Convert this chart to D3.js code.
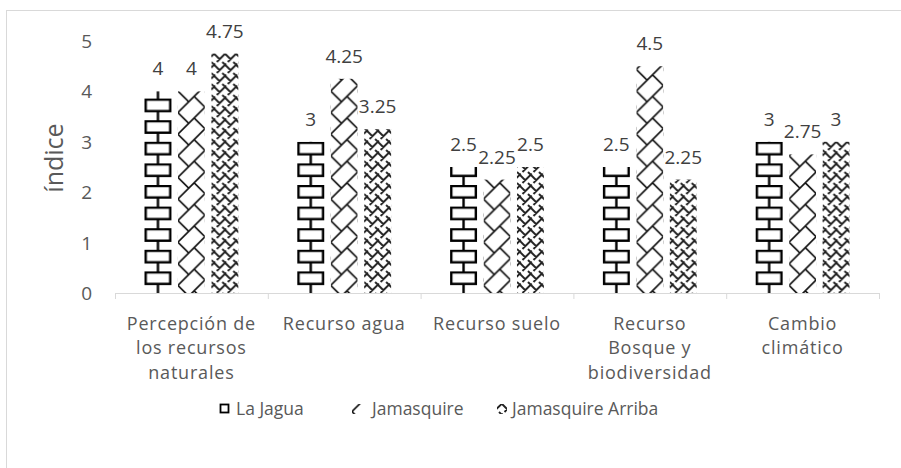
<!DOCTYPE html>
<html>
<head>
<meta charset="utf-8">
<script src="https://cdn.jsdelivr.net/npm/d3@7"></script>
<style>
  body { margin: 0; background: #fff; }
  text { font-family: "Open Sans", "Noto Sans", sans-serif; fill: #595959; }
</style>
</head>
<body>
<div id="vis-holder"></div>
<script>
// Chart data
const categories = ["Percepción de los recursos naturales", "Recurso agua", "Recurso suelo",
                    "Recurso Bosque y biodiversidad", "Cambio climático"];
const catLines = [["Percepción de", "los recursos", "naturales"], ["Recurso agua"], ["Recurso suelo"],
                  ["Recurso", "Bosque y", "biodiversidad"], ["Cambio", "climático"]];
const series = ["La Jagua", "Jamasquire", "Jamasquire Arriba"];
const laJagua = [4, 3, 2.5, 2.5, 3];
const jamasquire = [4, 4.25, 2.25, 4.5, 2.75];
const jamasquireArriba = [4.75, 3.25, 2.5, 2.25, 3];
const yTicks = [0, 1, 2, 3, 4, 5];

const values = [laJagua, jamasquire, jamasquireArriba];

// Sizes
const width = 901, height = 468;
const margin = { top: 41, right: 21, bottom: 175, left: 115 };
const baseY = height - margin.bottom; // 293

const svg = d3.select("#vis-holder")
              .append("svg")
              .attr("width", width)
              .attr("height", height);

// Outer border
svg.append("rect")
   .attr("x", 6.5).attr("y", 10.5)
   .attr("width", 900).attr("height", 470)
   .attr("fill", "none")
   .attr("stroke", "#d9d9d9");

// Scales
const x = d3.scaleBand()
            .domain(categories)
            .range([margin.left, width - margin.right - 1]);

const xs = d3.scaleBand()
             .domain(series)
             .range([29.5, x.bandwidth() - 29.5])
             .paddingInner(0.194);

const y = d3.scaleLinear()
            .domain([0, 5])
            .range([baseY, margin.top]);

const defs = svg.append("defs");
const H = 21.6;

// Pattern drawers: one per series
function brick(p, w) {
  p.append("rect").attr("x", 1.2).attr("y", 1).attr("width", w - 2.4).attr("height", 11.5)
   .attr("fill", "none").attr("stroke", "#000").attr("stroke-width", 2.4);
  p.append("path").attr("d", `M${w / 2},12.5V${H}M${w / 2},0V1`)
   .attr("stroke", "#000").attr("stroke-width", 2.4);
}

function diagBrick(p, w) {
  const c = 14;
  let d = "";
  for (let k = -2; k <= 2; k++) {
    d += `M0,${c + k * H}L${w},${c + k * H - w}`;
    [0, 16.2].forEach((x1) => {
      d += `M${x1},${c - x1 + k * H}l${H / 2},${H / 2}`;
    });
  }
  p.append("path").attr("d", d).attr("fill", "none")
   .attr("stroke", "#111").attr("stroke-width", 1.7);
}

function weave(p, w) {
  const s = 11;
  let d = "";
  for (let i = -4; i < 8; i++) {
    for (let j = -2; j < 5; j++) {
      const ox = i * s, oy = j * s;
      d += `M${ox},${oy}l${s * 0.75},${s * 0.75}`;
      d += `M${ox + s * 0.5},${oy + s}l${s * 0.5},${-s * 0.5}`;
      d += `M${ox},${oy + s * 0.5}l${s * 0.35},${-s * 0.35}`;
    }
  }
  p.append("path").attr("d", d).attr("fill", "none")
   .attr("stroke", "#222").attr("stroke-width", 1.9);
}

const drawers = [brick, diagBrick, weave];

function makePattern(id, px, py, w, draw) {
  const p = defs.append("pattern")
                .attr("id", id)
                .attr("patternUnits", "userSpaceOnUse")
                .attr("x", px).attr("y", py)
                .attr("width", w).attr("height", draw === weave ? 22 : H);
  p.append("rect").attr("width", w).attr("height", H + 2).attr("fill", "#fff");
  draw(p, w);
  return `url(#${id})`;
}

// Bars
series.forEach((s, si) => {
  values[si].forEach((v, ci) => {
    const bx = x(categories[ci]) + xs(s);
    const bw = xs.bandwidth();
    const fill = makePattern(`p${si}_${ci}`, bx, baseY, bw, drawers[si]);
    svg.append("rect")
       .attr("x", bx).attr("y", y(v))
       .attr("width", bw).attr("height", baseY - y(v))
       .attr("fill", fill);
    svg.append("text")
       .attr("x", bx + bw / 2).attr("y", y(v) - 16)
       .attr("text-anchor", "middle")
       .attr("font-size", "19px")
       .style("fill", "#404040")
       .text(v);
  });
});

// X axis
svg.append("g")
   .attr("transform", `translate(0,${baseY})`)
   .call(d3.axisBottom(x).tickValues([]).tickSizeOuter(0))
   .call((g) => g.select(".domain").attr("stroke", "#d9d9d9"));

const bounds = categories.map((c) => x(c)).concat([x.range()[1]]);
svg.append("g").selectAll("line")
   .data(bounds)
   .enter().append("line")
   .attr("x1", (d) => d + 0.5).attr("x2", (d) => d + 0.5)
   .attr("y1", baseY).attr("y2", baseY + 6)
   .attr("stroke", "#d9d9d9");

// Category labels
categories.forEach((c, ci) => {
  catLines[ci].forEach((line, li) => {
    svg.append("text")
       .attr("x", x(c) + x.bandwidth() / 2)
       .attr("y", 329.5 + li * 24.5)
       .attr("text-anchor", "middle")
       .attr("font-size", "18px")
       .attr("letter-spacing", "0.8px")
       .text(line);
  });
});

// Y axis labels
svg.append("g").selectAll("text")
   .data(yTicks)
   .enter().append("text")
   .attr("x", 92).attr("y", (d) => y(d) + 7)
   .attr("text-anchor", "end")
   .attr("font-size", "19px")
   .text((d) => d);

svg.append("text")
   .attr("transform", `translate(63,158) rotate(-90)`)
   .attr("text-anchor", "middle")
   .attr("font-size", "25px")
   .text("índice");

// Legend
const legendX = [220, 352, 497];
const legendTextX = [236, 372, 512];
series.forEach((s, si) => {
  const lg = svg.append("g").attr("transform", `translate(${legendX[si]},404)`);
  if (si === 0) {
    lg.append("rect").attr("x", 0.5).attr("y", 0.5).attr("width", 8).attr("height", 8)
      .attr("fill", "#fff").attr("stroke", "#000").attr("stroke-width", 1.8);
  } else {
    const fill = makePattern(`lg${si}`, legendX[si], 404, 11, drawers[si]);
    lg.append("rect").attr("width", 10).attr("height", 10).attr("fill", fill);
  }
  svg.append("text")
    .attr("x", legendTextX[si])
    .attr("y", 415)
    .attr("font-size", "17.5px")
    .text(s);
});
</script>
</body>
</html>
